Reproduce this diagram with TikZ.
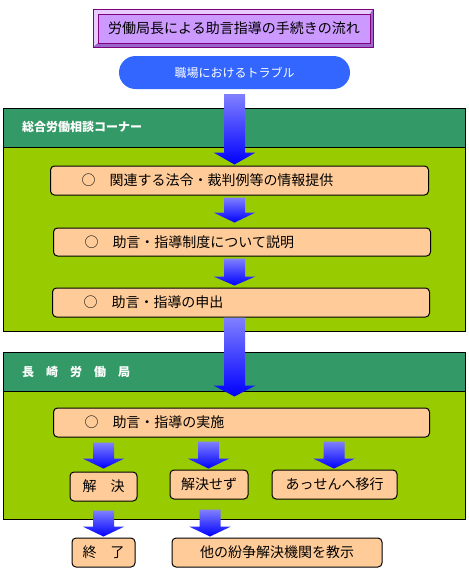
\documentclass[tikz,border=0pt]{standalone}
\usepackage{fontspec}
\setmainfont{Noto Sans CJK JP}
\usetikzlibrary{calc}
\definecolor{headgreen}{HTML}{339966}
\definecolor{bodygreen}{HTML}{99CC00}
\definecolor{boxfill}{HTML}{FFCC99}
\definecolor{pillblue}{HTML}{3366FF}
\definecolor{titlefill}{HTML}{CC99FF}
\definecolor{titleline}{HTML}{800080}
\definecolor{bevellight}{HTML}{E6CCFF}
\definecolor{beveldark}{HTML}{9966CC}
\definecolor{arrowtop}{HTML}{8080FF}
\definecolor{arrowbot}{HTML}{0000FF}
\tikzset{
  stepbox/.style={draw=black, fill=boxfill, line width=1pt, rounded corners=4pt,
    inner sep=0pt, font=\fontsize{14}{16}\selectfont},
  widebox/.style={stepbox, minimum height=29, align=left, anchor=west},
  headtext/.style={text=white, anchor=west, inner sep=0pt, font=\fontsize{12}{14}\selectfont\bfseries},
  flowshade/.style={top color=arrowtop, bottom color=arrowbot}
}
\begin{document}
\begin{tikzpicture}[x=1pt,y=-1pt]
  \useasboundingbox (0,0) rectangle (469,571);
  % title with bevel
  \fill[bevellight] (93,9) rectangle (373,47);
  \fill[beveldark] (373,9) -- (373,47) -- (93,47) -- (98,43) -- (370,43) -- (370,14) -- cycle;
  \draw[titleline, fill=titlefill] (98,14) rectangle (370,43);
  \draw[titleline, line width=1pt] (93,9) rectangle (373,47);
  \node (title) at (234,28.5) {\fontsize{14}{16}\selectfont 労働局長による助言指導の手続きの流れ};
  \node[fill=pillblue, rounded corners=16.5pt, minimum width=231, minimum height=33,
    text=white, font=\fontsize{12}{14}\selectfont] (trouble) at (234.5,72.5) {職場におけるトラブル};
  % sections
  \filldraw[fill=headgreen, draw=black, line width=1pt] (3,108) rectangle (465,147);
  \filldraw[fill=bodygreen, draw=black, line width=1pt] (3,147) rectangle (465,331);
  \node[headtext] (corner) at (22,127) {総合労働相談コーナー};
  \filldraw[fill=headgreen, draw=black, line width=1pt] (3,352) rectangle (465,391);
  \filldraw[fill=bodygreen, draw=black, line width=1pt] (3,391) rectangle (465,519);
  \node[headtext] (bureau) at (22,372) {長　崎　労　働　局};
  % steps
  \node[widebox, minimum width=378, text width=316, inner xsep=31] (info) at (50,180.5) {○　関連する法令・裁判例等の情報提供};
  \node[widebox, minimum width=377, text width=315, inner xsep=31, minimum height=28] (explain) at (53,242) {○　助言・指導制度について説明};
  \node[widebox, minimum width=377, text width=315, inner xsep=30] (request) at (52,302.5) {○　助言・指導の申出};
  \node[widebox, minimum width=376, text width=314, inner xsep=30] (conduct) at (53,422.5) {○　助言・指導の実施};
  \node[stepbox, minimum width=67, minimum height=29] (solved) at (103.5,486.5) {解　決};
  \node[stepbox, minimum width=78, minimum height=29] (unsolved) at (209,484.5) {解決せず};
  \node[stepbox, minimum width=125, minimum height=29] (mediation) at (334.5,484.5) {あっせんへ移行};
  \node[stepbox, minimum width=63, minimum height=29] (ended) at (103.5,552.5) {終　了};
  \node[stepbox, minimum width=210, minimum height=29] (refer) at (277,552.5) {他の紛争解決機関を教示};
  % arrows
  \foreach \ax/\from/\to/\gs/\ge/\hl in {234.5/trouble/info/5/1/12, 234.5/info/explain/2/5/10,
      234.5/explain/request/2/2/9, 234.5/request/conduct/0/11/11, 103.5/conduct/solved/5/3/10,
      208.5/conduct/unsolved/4/1/10, 334/conduct/mediation/4/1/10,
      103.5/solved/ended/9/1/10, 210/unsolved/refer/10/1/10} {
    \shade[flowshade] let \p1=(\from.south), \p2=(\to.north) in
      (\ax pt-10.5pt,\y1-\gs pt) -- (\ax pt+10.5pt,\y1-\gs pt)
      -- (\ax pt+10.5pt,\y2+\ge pt+\hl pt) -- (\ax pt+21pt,\y2+\ge pt+\hl pt)
      -- (\ax pt,\y2+\ge pt) -- (\ax pt-21pt,\y2+\ge pt+\hl pt)
      -- (\ax pt-10.5pt,\y2+\ge pt+\hl pt) -- cycle;
  }
\end{tikzpicture}
\end{document}
